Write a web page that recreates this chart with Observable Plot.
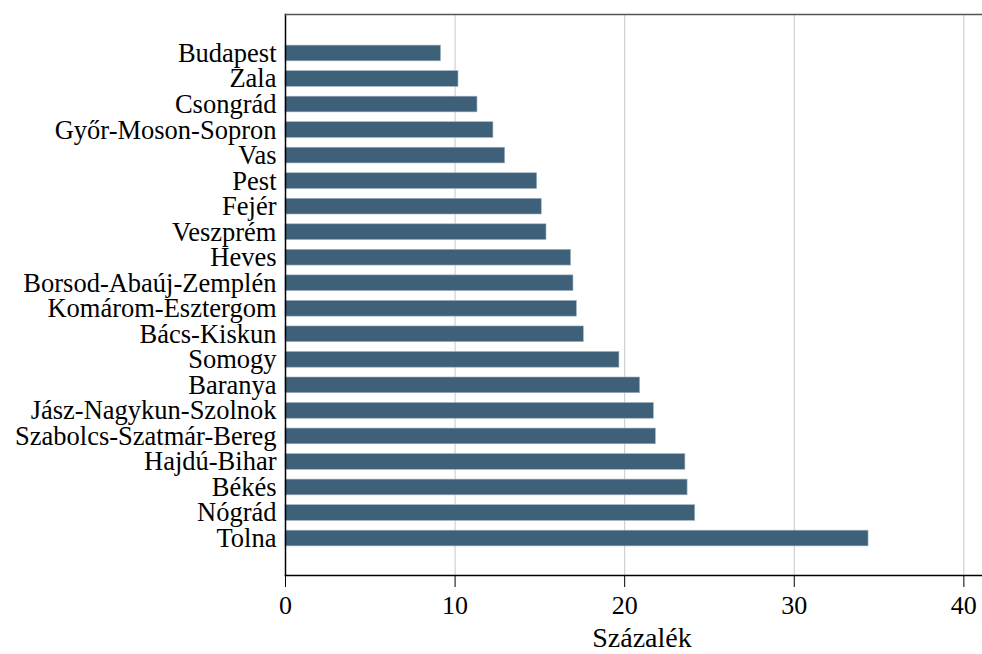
<!DOCTYPE html>
<html><head><meta charset="utf-8">
<script src="https://cdn.jsdelivr.net/npm/d3@7"></script>
<script src="https://cdn.jsdelivr.net/npm/@observablehq/plot@0.6"></script>
<style>
body{margin:0;background:#fff}
svg{display:block}
#chart svg, #chart svg text{font-family:"Liberation Serif","Times New Roman",serif !important;}
</style>
</head><body><div id="chart"></div>
<script>
const counties = ["Budapest","Zala","Csongrád","Győr-Moson-Sopron","Vas","Pest","Fejér","Veszprém","Heves","Borsod-Abaúj-Zemplén","Komárom-Esztergom","Bács-Kiskun","Somogy","Baranya","Jász-Nagykun-Szolnok","Szabolcs-Szatmár-Bereg","Hajdú-Bihar","Békés","Nógrád","Tolna"];
const values = [9.17,10.2,11.32,12.26,12.95,14.84,15.11,15.39,16.84,16.98,17.18,17.59,19.69,20.91,21.72,21.84,23.58,23.71,24.16,34.38];
const xTicks = [0,10,20,30,40];
const xLabel = "Százalék";
const data = counties.map((c,i)=>({county:c, value: values[i]}));
const chart = Plot.plot({
  width: 982, height: 654,
  marginLeft: 285, marginRight: 0, marginTop: 14, marginBottom: 79,
  style: {background: "#fff", color: "#000"},
  x: {domain: [0, 41.1], label: null},
  y: {domain: counties, paddingInner: 0.385, paddingOuter: 0.1925, round: false, label: null, range: [40.2, 550.8]},
  marks: [
    Plot.gridX(xTicks.slice(1), {stroke: "#c8c8c8", strokeOpacity: 1}),
    Plot.barX(data, {x: "value", y: "county", fill: "#3e6179", stroke: "#9fb1bf", strokeWidth: 0.6}),
    Plot.frame({anchor: "left", stroke: "#000", strokeWidth: 1.5}),
    Plot.frame({anchor: "top", stroke: "#555", strokeWidth: 1.5}),
    Plot.frame({anchor: "bottom", stroke: "#000", strokeWidth: 1.5}),
    Plot.axisX({ticks: xTicks, tickSize: 12, tickPadding: 8, fontSize: 26, label: null, stroke: "#000"}),
    Plot.axisY({tickSize: 0, tickPadding: 9, fontSize: 26.5, label: null}),
    Plot.text([xLabel], {frameAnchor: "bottom", dy: 71, dx: 8, fontSize: 28, fill: "#000"})
  ]
});
document.getElementById("chart").appendChild(chart);
</script>
</body></html>
